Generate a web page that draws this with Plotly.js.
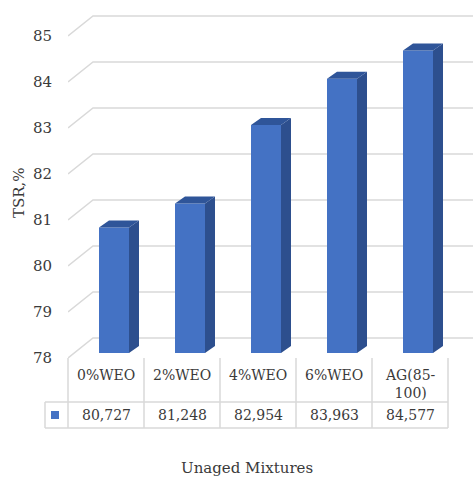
<!DOCTYPE html>
<html>
<head>
<meta charset="utf-8">
<script src="https://cdn.plot.ly/plotly-3.0.1.min.js"></script>
<style>html,body{margin:0;padding:0;background:#fff}#chart{width:473px;height:482px}</style>
</head>
<body>
<div id="chart"></div>
<script>
// ---- data ----
const categories = ['0%WEO', '2%WEO', '4%WEO', '6%WEO', 'AG(85-100)'];
const tsrValues = [80.727, 81.248, 82.954, 83.963, 84.577];
const yTicks = [78, 79, 80, 81, 82, 83, 84, 85];
const yTitle = 'TSR,%';
const xTitle = 'Unaged Mixtures';

// ---- geometry ----
const W = 473, H = 482;
const PXU = 46;          // px per y unit
const COL = 76;          // px per category
const plotL = 68, plotR = 473, plotTop = 10, plotBot = 358, barBot = 353;
const FONT = 'DejaVu Serif';
const TXT = '#3a3a3a';
const GRID = '#d9d9d9';
const px = x => x / W;
const py = y => (H - y) / H;

const xRange = [-0.5, -0.5 + (plotR - plotL) / COL];
const x2Start = -46 / COL;
const x2Range = [x2Start, x2Start + (plotR - plotL) / COL];
const yRange = [yTicks[0], yTicks[0] + (plotBot - plotTop) / PXU];
const y2Range = [yTicks[0], yTicks[0] + (barBot - plotTop) / PXU];

const idx = categories.map((c, i) => i);
const hw = 30 / COL / 2;        // half bar width
const ddx = 10 / COL, ddy = 7 / PXU; // depth offset
const base = y2Range[0];

const sideX = [], sideY = [], topX = [], topY = [];
idx.forEach((i) => {
  const v = tsrValues[i];
  sideX.push(i + hw, i + hw + ddx, i + hw + ddx, i + hw, null);
  sideY.push(base, base + ddy, v + ddy, v, null);
  topX.push(i - hw, i + hw, i + hw + ddx, i - hw + ddx, null);
  topY.push(v, v, v + ddy, v + ddy, null);
});

const traces = [
  {type: 'bar', x: idx, y: tsrValues, xaxis: 'x2', yaxis: 'y2', width: 2 * hw,
   marker: {color: '#4472c4', line: {width: 0}}, hoverinfo: 'y', showlegend: false},
  {type: 'scatter', mode: 'lines', x: sideX, y: sideY, xaxis: 'x2', yaxis: 'y2',
   fill: 'toself', fillcolor: '#2d4f8e', line: {width: 0}, hoverinfo: 'skip', showlegend: false},
  {type: 'scatter', mode: 'lines', x: topX, y: topY, xaxis: 'x2', yaxis: 'y2',
   fill: 'toself', fillcolor: '#2f5599', line: {width: 0}, hoverinfo: 'skip', showlegend: false}
];

// gridlines (front-left oblique + back wall)
const shapes = [];
const bx = 25 / COL, by = 20 / PXU;
yTicks.forEach(v => {
  shapes.push({type: 'path', xref: 'x', yref: 'y', layer: 'below',
    path: `M ${xRange[0]},${v} L ${xRange[0] + bx},${v + by} L ${xRange[1]},${v + by}`,
    line: {color: GRID, width: 1.5}});
});
// table lines
const tTop = 358, tMid = 402, tBot = 428, keyL = 45;
for (let k = 0; k <= categories.length; k++) {
  const xx = plotL + COL * k;
  shapes.push({type: 'line', xref: 'paper', yref: 'paper', x0: px(xx), x1: px(xx), y0: py(tTop), y1: py(tBot),
    line: {color: GRID, width: 1.5}});
}
shapes.push({type: 'line', xref: 'paper', yref: 'paper', x0: px(keyL), x1: px(keyL), y0: py(tMid), y1: py(tBot), line: {color: GRID, width: 1.5}});
[tMid, tBot].forEach(yy => shapes.push({type: 'line', xref: 'paper', yref: 'paper',
  x0: px(keyL), x1: px(plotL + COL * categories.length), y0: py(yy), y1: py(yy), line: {color: GRID, width: 1.5}}));
// legend key
shapes.push({type: 'rect', xref: 'paper', yref: 'paper', x0: px(51), x1: px(59), y0: py(419), y1: py(411),
  fillcolor: '#4472c4', line: {width: 0}});

const annotations = [];
categories.forEach((c, i) => {
  const label = c.length > 8 && c.indexOf('-') > 0 ? c.replace('-', '-<br>') : c;
  annotations.push({xref: 'x', yref: 'paper', x: i, y: py(365), yanchor: 'top', xanchor: 'center',
    text: label, showarrow: false, font: {family: FONT, size: 14, color: TXT}});
  annotations.push({xref: 'x', yref: 'paper', x: i, y: py(415), yanchor: 'middle', xanchor: 'center',
    text: tsrValues[i].toFixed(3).replace('.', ','), showarrow: false, font: {family: FONT, size: 14, color: TXT}});
});
annotations.push({xref: 'paper', yref: 'paper', x: px(247), y: py(468), xanchor: 'center', yanchor: 'middle',
  text: xTitle, showarrow: false, font: {family: FONT, size: 15, color: TXT}});
annotations.push({xref: 'paper', yref: 'paper', x: px(19), y: py(193), xanchor: 'center', yanchor: 'middle',
  text: yTitle, textangle: -90, showarrow: false, font: {family: FONT, size: 15, color: TXT}});

const hidden = {showgrid: false, zeroline: false, showline: false, showticklabels: false, ticks: '', fixedrange: true};
const layout = {
  width: W, height: H,
  margin: {l: 0, r: 0, t: 0, b: 0, pad: 0},
  paper_bgcolor: '#ffffff', plot_bgcolor: 'rgba(0,0,0,0)',
  showlegend: false,
  xaxis: Object.assign({}, hidden, {domain: [px(plotL), 1], range: xRange, anchor: 'y'}),
  yaxis: {domain: [py(plotBot), py(plotTop)], range: yRange, anchor: 'x',
    tickvals: yTicks, ticktext: yTicks.map(String), showgrid: false, zeroline: false, showline: false,
    ticks: '', ticklabelstandoff: 15, tickfont: {family: FONT, size: 15, color: TXT}, fixedrange: true},
  xaxis2: Object.assign({}, hidden, {domain: [px(plotL), 1], range: x2Range, anchor: 'y2'}),
  yaxis2: Object.assign({}, hidden, {domain: [py(barBot), py(plotTop)], range: y2Range, anchor: 'x2'}),
  shapes: shapes,
  annotations: annotations
};

Plotly.newPlot('chart', traces, layout, {displayModeBar: false, staticPlot: true});
</script>
</body>
</html>
